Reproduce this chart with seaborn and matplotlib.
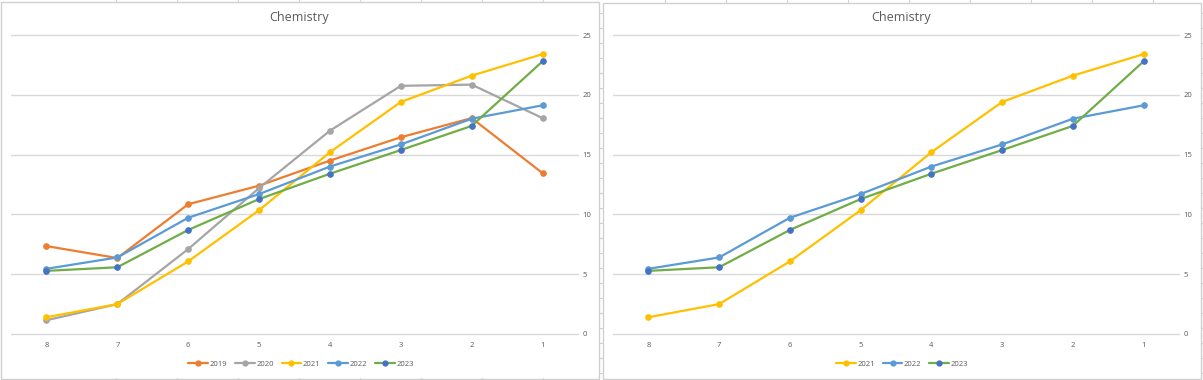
import numpy as np
import pandas as pd
import seaborn as sns
import matplotlib.pyplot as plt
from matplotlib.lines import Line2D
from matplotlib.patches import Rectangle

sns.set_theme(style="white")
plt.rcParams['font.family'] = ['Open Sans', 'DejaVu Sans']

# ranks on the x axis, shown from 8 down to 1
ranks = ["8", "7", "6", "5", "4", "3", "2", "1"]

y2019 = [7.35, 6.35, 10.85, 12.4, 14.5, 16.45, 18.05, 13.45]
y2020 = [1.15, 2.5, 7.1, 12.2, 17.0, 20.75, 20.85, 18.05]
y2021 = [1.4, 2.5, 6.07, 10.35, 15.2, 19.4, 21.6, 23.4]
y2022 = [5.45, 6.4, 9.72, 11.7, 14.0, 15.85, 18.0, 19.12]
y2023 = [5.28, 5.58, 8.7, 11.28, 13.4, 15.38, 17.4, 22.8]

left_years = ["2019", "2020", "2021", "2022", "2023"]
right_years = ["2021", "2022", "2023"]

series = {"2019": y2019, "2020": y2020, "2021": y2021, "2022": y2022, "2023": y2023}
line_col = {"2019": "#ED7D31", "2020": "#A5A5A5", "2021": "#FFC000",
            "2022": "#5B9BD5", "2023": "#70AD47"}
mark_col = {"2019": "#ED7D31", "2020": "#A5A5A5", "2021": "#FFC000",
            "2022": "#5B9BD5", "2023": "#4472C4"}

txt = "#595959"
grid = "#D9D9D9"
edge = "#D0D0D0"

W, H = 1203, 380
fig = plt.figure(figsize=(W / 100, H / 100), dpi=100)

ax1 = fig.add_axes([11 / W, 46 / H, 567 / W, 299 / H])
ax2 = fig.add_axes([613 / W, 46 / H, 566 / W, 299 / H])


def draw(ax, years, title_x, leg_x):
    rows = []
    for yr in years:
        for i, v in enumerate(series[yr]):
            rows.append({"pos": i, "score": v, "year": yr})
    df = pd.DataFrame(rows)
    handles = []
    for yr in years:
        d = df[df.year == yr]
        sns.lineplot(data=d, x="pos", y="score", ax=ax, color=line_col[yr],
                     linewidth=1.6, marker="o", markersize=4,
                     markerfacecolor=mark_col[yr], markeredgecolor=mark_col[yr],
                     sort=False, legend=False)
        handles.append(Line2D([], [], color=line_col[yr], linewidth=1.6, marker="o",
                              markersize=3.5, markerfacecolor=mark_col[yr],
                              markeredgecolor=mark_col[yr], label=yr))
    ax.set_xlim(-0.5, 7.5)
    ax.set_ylim(0, 25)
    ax.set_yticks([0, 5, 10, 15, 20, 25])
    ax.set_xticks(range(len(ranks)))
    ax.set_xticklabels(ranks)
    ax.yaxis.tick_right()
    ax.tick_params(axis="both", length=0, labelsize=5.5, labelcolor=txt)
    ax.tick_params(axis="x", pad=6)
    ax.tick_params(axis="y", pad=3)
    ax.set_xlabel("")
    ax.set_ylabel("")
    ax.grid(axis="y", color=grid, linewidth=1.0)
    for gl in ax.get_ygridlines():
        gl.set_clip_on(False)
    ax.set_axisbelow(True)
    for s in ax.spines.values():
        s.set_visible(False)
    fig.text(title_x / W, 1 - 17 / H, "Chemistry", ha="center", va="center",
             fontsize=9, color=txt)
    fig.legend(handles=handles, loc="center", bbox_to_anchor=(leg_x / W, 1 - 364 / H),
               ncol=len(years), frameon=False, fontsize=5.5, labelcolor=txt,
               handlelength=2.6, columnspacing=1.0, handletextpad=0.2)


draw(ax1, left_years, 299, 301)
draw(ax2, right_years, 901, 902)

# chart frames and bits of the spreadsheet behind them
fig.add_artist(Rectangle((0.7 / W, 1 / H), 598.6 / W, 377 / H, fill=False,
                         edgecolor=edge, linewidth=1.0, transform=fig.transFigure))
fig.add_artist(Rectangle((603.3 / W, 1.5 / H), 597.4 / W, 376 / H, fill=False,
                         edgecolor=edge, linewidth=1.0, transform=fig.transFigure))
for cx in np.arange(115.6, 560, 61):
    fig.add_artist(Line2D([cx / W] * 2, [1 - 1 / H, 1], color=edge, linewidth=0.8))
    fig.add_artist(Line2D([cx / W] * 2, [0, 2 / H], color=edge, linewidth=0.8))
for cx in np.arange(665, 1190, 61):
    fig.add_artist(Line2D([cx / W] * 2, [1 - 2 / H, 1], color=edge, linewidth=0.8))
    fig.add_artist(Line2D([cx / W] * 2, [0, 1.5 / H], color=edge, linewidth=0.8))
for ry in np.arange(13, 380, 15):
    fig.add_artist(Line2D([599.3 / W, 603.3 / W], [1 - ry / H] * 2, color=edge, linewidth=0.8))
    fig.add_artist(Line2D([1200.7 / W, 1], [1 - ry / H] * 2, color=edge, linewidth=0.8))

fig.savefig("out.png", dpi=100)
